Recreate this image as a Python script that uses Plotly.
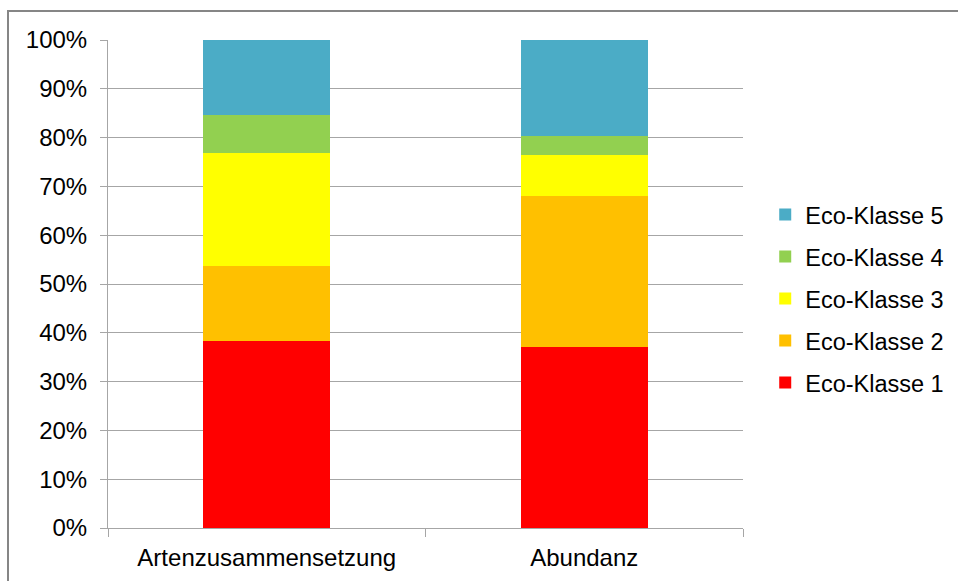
import plotly.graph_objects as go

# Kategorien und Anteile je Eco-Klasse (Anteil am Gesamt, 0..1)
categories = ["Artenzusammensetzung", "Abundanz"]
eco_klasse_1 = [0.384, 0.371]
eco_klasse_2 = [0.153, 0.309]
eco_klasse_3 = [0.231, 0.085]
eco_klasse_4 = [0.078, 0.039]
eco_klasse_5 = [0.154, 0.196]

series_names = ["Eco-Klasse 1", "Eco-Klasse 2", "Eco-Klasse 3", "Eco-Klasse 4", "Eco-Klasse 5"]
series_values = [eco_klasse_1, eco_klasse_2, eco_klasse_3, eco_klasse_4, eco_klasse_5]
series_colors = ["#FF0000", "#FFC000", "#FFFF00", "#92D050", "#4BACC6"]

font_family = "Liberation Sans, Arial, sans-serif"

fig = go.Figure()
for i, (name, vals, col) in enumerate(zip(series_names, series_values, series_colors)):
    fig.add_trace(go.Bar(
        x=categories, y=vals, name=name, legendgroup=name,
        legendrank=1000 - i,  # höchste Klasse oben in der Legende
        marker=dict(color=col, line=dict(width=0)),
    ))

fig.update_layout(
    width=958, height=581,
    barmode="stack", bargap=0.6,
    plot_bgcolor="white", paper_bgcolor="white",
    margin=dict(l=108, r=215, t=40, b=53, autoexpand=False),
    font=dict(family=font_family, size=24, color="#000000"),
    showlegend=True,
    legend=dict(
        x=1.035, xanchor="left", y=0.47, yanchor="middle",
        traceorder="grouped", tracegroupgap=8.5,
        font=dict(size=23.5), bgcolor="rgba(0,0,0,0)",
    ),
    shapes=[dict(
        type="rect", xref="paper", yref="paper",
        x0=(8 - 108) / 635, x1=1.6, y0=-0.3, y1=(528 - 11) / 488,
        line=dict(color="#868686", width=2), fillcolor="rgba(0,0,0,0)",
        layer="below",
    )],
)

fig.update_yaxes(
    range=[0, 1], dtick=0.1, tickformat=".0%",
    showgrid=True, gridcolor="#A6A6A6", gridwidth=1,
    showline=True, linecolor="#A6A6A6", linewidth=1,
    ticks="outside", ticklen=7, tickcolor="#A6A6A6",
    ticklabelstandoff=8, zeroline=False, automargin=False,
)
fig.update_xaxes(
    showline=True, linecolor="#A6A6A6", linewidth=1,
    ticks="outside", ticklen=8, tickcolor="#A6A6A6",
    tickson="boundaries", showgrid=False, ticklabelstandoff=8,
    automargin=False,
)

fig.write_html("out.html")
